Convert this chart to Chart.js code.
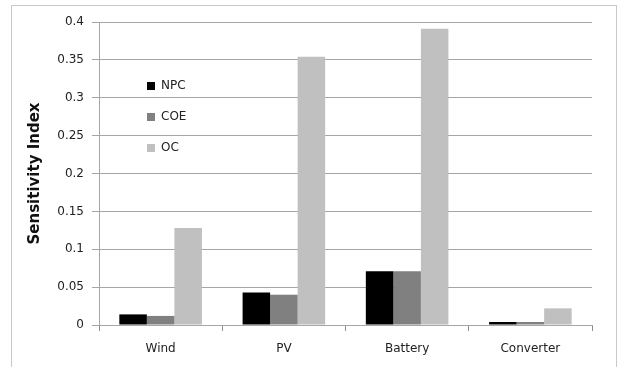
<!DOCTYPE html>
<html><head><meta charset="utf-8">
<script src="https://cdn.jsdelivr.net/npm/chart.js@4/dist/chart.umd.min.js"></script>
<style>
html,body{margin:0;padding:0;background:#fff;width:618px;height:367px;overflow:hidden;}
#frame{position:absolute;left:11px;top:5px;width:606px;height:380px;border:1px solid #c8c8c8;box-sizing:border-box;}
#wrap{position:absolute;left:0;top:0;width:618px;height:367px;}
#legend{position:absolute;left:147px;top:78px;font:12px "DejaVu Sans",sans-serif;color:#222;}
#legend div{height:31px;display:flex;align-items:flex-start;}
#legend span.sw{display:inline-block;width:8px;height:8px;margin-right:6px;margin-top:4px;}
</style></head>
<body>
<div id="frame"></div>
<div id="wrap"><canvas id="c" width="618" height="367"></canvas></div>
<div id="legend"></div>
<script>
const categories = ["Wind", "PV", "Battery", "Converter"];
const seriesNames = ["NPC", "COE", "OC"];
const npcValues = [0.014, 0.043, 0.071, 0.004];
const coeValues = [0.012, 0.040, 0.071, 0.004];
const ocValues = [0.128, 0.354, 0.391, 0.022];
const yTicks = [0, 0.05, 0.1, 0.15, 0.2, 0.25, 0.3, 0.35, 0.4];
const colors = ["#000000", "#808080", "#c0c0c0"];
const seriesValues = [npcValues, coeValues, ocValues];

const datasets = seriesNames.map((n, i) => ({
  label: n, data: seriesValues[i], backgroundColor: colors[i],
  borderWidth: 0, barPercentage: 1.0, categoryPercentage: 0.67
}));

const lg = document.getElementById('legend');
seriesNames.forEach((n, i) => {
  const d = document.createElement('div');
  d.innerHTML = '<span class="sw" style="background:' + colors[i] + '"></span>' + n;
  lg.appendChild(d);
});

const font = {family: "DejaVu Sans", size: 12};
new Chart(document.getElementById('c'), {
  type: 'bar',
  data: {labels: categories, datasets},
  options: {
    responsive: false, animation: false,
    layout: {padding: {top: 22, right: 26, left: 26, bottom: 0}},
    plugins: {legend: {display: false}, tooltip: {enabled: false}},
    scales: {
      x: {
        grid: {drawOnChartArea: false, drawTicks: true, tickLength: 6, offset: true, color: '#8c8c8c'},
        border: {color: '#a6a6a6'},
        ticks: {font, color: '#222', padding: 11},
        afterFit: s => { s.height = 42; }
      },
      y: {
        min: 0, max: 0.4,
        afterBuildTicks: s => { s.ticks = yTicks.map(v => ({value: v})); },
        grid: {color: '#a6a6a6', tickLength: 7, drawTicks: true},
        border: {color: '#a6a6a6'},
        ticks: {font, color: '#222', padding: 8, callback: v => String(v)},
        title: {display: true, text: 'Sensitivity Index', font: {family: "DejaVu Sans", size: 15, weight: 'bold'}, color: '#111', padding: {top: 0, bottom: 0}},
        afterFit: s => { s.width = 73; }
      }
    }
  }
});
</script>
</body></html>
